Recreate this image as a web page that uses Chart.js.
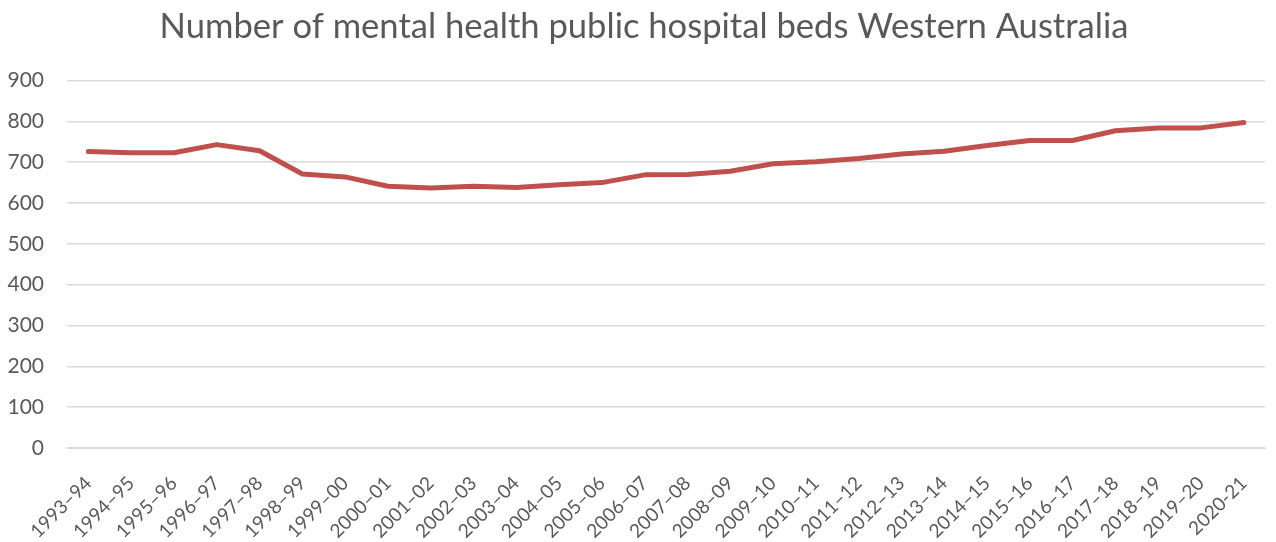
<!DOCTYPE html>
<html>
<head>
<meta charset="utf-8">
<script src="https://cdn.jsdelivr.net/npm/chart.js@4"></script>
<style>
  html, body { margin: 0; padding: 0; background: #fff; }
  #wrap { width: 1276px; height: 542px; }
</style>
</head>
<body>
<div id="wrap"><canvas id="bedsChart"></canvas></div>
<script>
// financial years (last one is written with a plain hyphen in the source)
const years = ["1993–94", "1994–95", "1995–96", "1996–97", "1997–98", "1998–99", "1999–00",
  "2000–01", "2001–02", "2002–03", "2003–04", "2004–05", "2005–06", "2006–07", "2007–08",
  "2008–09", "2009–10", "2010–11", "2011–12", "2012–13", "2013–14", "2014–15", "2015–16",
  "2016–17", "2017–18", "2018–19", "2019–20", "2020-21"];

// beds
const beds = [726, 723, 723, 743, 728, 671, 664, 641, 637, 641, 638, 645, 650, 669, 670,
  678, 696, 701, 709, 720, 727, 741, 753, 753, 777, 784, 784, 797];

const grey = '#595959';

// nudge the title a little to the right, like in the original
const shiftTitle = {
  id: 'shiftTitle',
  afterLayout(c) {
    if (c.titleBlock) {
      c.titleBlock.left += 9;
      c.titleBlock.right += 9;
    }
  }
};

new Chart('bedsChart', {
  type: 'line',
  data: {
    labels: years,
    datasets: [{
      data: beds,
      borderColor: '#c0504d',
      borderWidth: 5,
      pointRadius: 0,
      tension: 0,
      borderCapStyle: 'round',
      borderJoinStyle: 'round'
    }]
  },
  options: {
    responsive: true,
    maintainAspectRatio: false,
    animation: false,
    layout: { padding: { left: 0, right: 6, top: 2, bottom: 0 } },
    plugins: {
      legend: { display: false },
      tooltip: { enabled: false },
      title: {
        display: true,
        text: 'Number of mental health public hospital beds Western Australia',
        color: grey,
        font: { family: 'Lato', size: 34.6, weight: 'normal' },
        padding: { top: 4, bottom: 33 }
      }
    },
    scales: {
      x: {
        offset: true,
        grid: { display: false },
        border: { color: '#d9d9d9', width: 1 },
        afterFit: (s) => { s.height = 94; },
        ticks: {
          color: grey,
          font: { family: 'Lato', size: 19 },
          minRotation: 45,
          maxRotation: 45,
          autoSkip: false,
          padding: 16
        }
      },
      y: {
        min: 0,
        max: 900,
        afterFit: (s) => { s.width = 67; },
        grid: { color: '#d9d9d9', lineWidth: 1.5, drawTicks: false },
        border: { display: false },
        ticks: {
          stepSize: 100,
          color: grey,
          font: { family: 'Lato', size: 21 },
          padding: 23
        }
      }
    }
  },
  plugins: [shiftTitle]
});
</script>
</body>
</html>
